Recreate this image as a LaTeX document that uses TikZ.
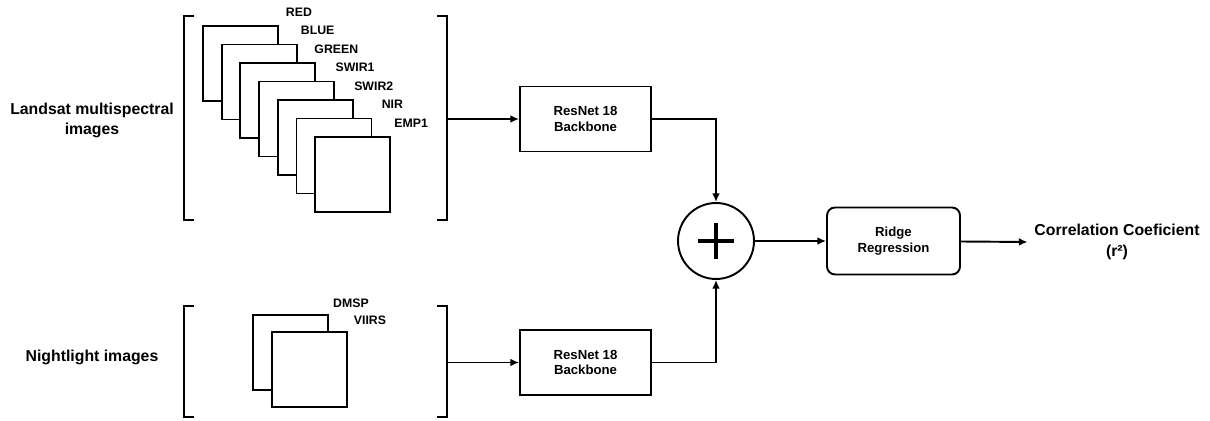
\documentclass[tikz,border=0pt]{standalone}
\usepackage{fontspec}
\setmainfont{Liberation Sans}
\usetikzlibrary{arrows.meta,positioning}

\begin{document}
\begin{tikzpicture}[x=.02cm, y=-.02cm, font=\bfseries, >={Latex[length=5pt,width=4.5pt]}, line width=1.1pt,
    band/.style={draw, fill=white, minimum size=1.5cm, inner sep=0pt},
    bandlabel/.style={font=\fontsize{7}{8}\selectfont\bfseries, inner sep=0pt},
    block/.style={draw, minimum width=2.62cm, minimum height=1.3cm, align=center, font=\fontsize{7.5}{9}\selectfont\bfseries},
    title/.style={align=center, font=\fontsize{9}{11}\selectfont\bfseries}]
    \useasboundingbox (0,0) rectangle (1210,421);
    \node[title] (lstitle) at (92,120.5) {Landsat multispectral\\images};
    \node[title] (nltitle) at (92,357) {Nightlight images};
    \draw (194,16) -- (184,16) -- (184,220) -- (194,220);
    \draw (437,16) -- (447,16) -- (447,220) -- (437,220);
    \draw (194,306) -- (184,306) -- (184,417) -- (194,417);
    \draw (437,306) -- (447,306) -- (447,417) -- (437,417);
    \coordinate (lsout) at (447,119);
    \coordinate (nlout) at (447,362.5);
    \foreach \band [count=\k from 0] in {RED,BLUE,GREEN,SWIR1,SWIR2,NIR,EMP1} {
      \node[band] (ls\k) at ({240.5+18.7*\k},{63.5+18.5*\k}) {};
      \node[bandlabel] (lsl\k) at ([xshift=.4cm,yshift=.26cm]ls\k.north east) {\band};
    }
    \foreach \band/\x/\y [count=\k from 0] in {DMSP/290.5/352.5,VIIRS/309.5/369.5} {
      \node[band] (nl\k) at (\x,\y) {};
      \node[bandlabel] (nll\k) at ([xshift=.44cm,yshift=.22cm]nl\k.north east) {\band};
    }
    \node[block] (rnls) at (585.5,119) {ResNet 18\\Backbone};
    \node[block] (rnnl) at (585.5,362.5) {ResNet 18\\Backbone};
    \node[draw, circle, minimum size=1.52cm, inner sep=0pt] (sum) at (716,241) {};
    \draw[line width=2pt] ([xshift=-.36cm]sum.center) -- ([xshift=.36cm]sum.center);
    \draw[line width=2pt] ([yshift=-.36cm]sum.center) -- ([yshift=.36cm]sum.center);
    \node[block, rounded corners=.16cm, minimum width=2.66cm, minimum height=1.34cm] (ridge) at (893.5,241) {Ridge\\Regression};
    \node[title, font=\fontsize{9}{11.5}\selectfont\bfseries] (corr) at (1117,242) {Correlation Coeficient\\(r²)};
    \draw[->] (lsout) -- (rnls);
    \draw[->] (nlout) -- (rnnl);
    \draw[->] (rnls.east) -| (sum.north);
    \draw[->] (rnnl.east) -| (sum.south);
    \draw[->] (sum) -- (ridge);
    \draw[->] (ridge) -- (corr.west);
\end{tikzpicture}
\end{document}
